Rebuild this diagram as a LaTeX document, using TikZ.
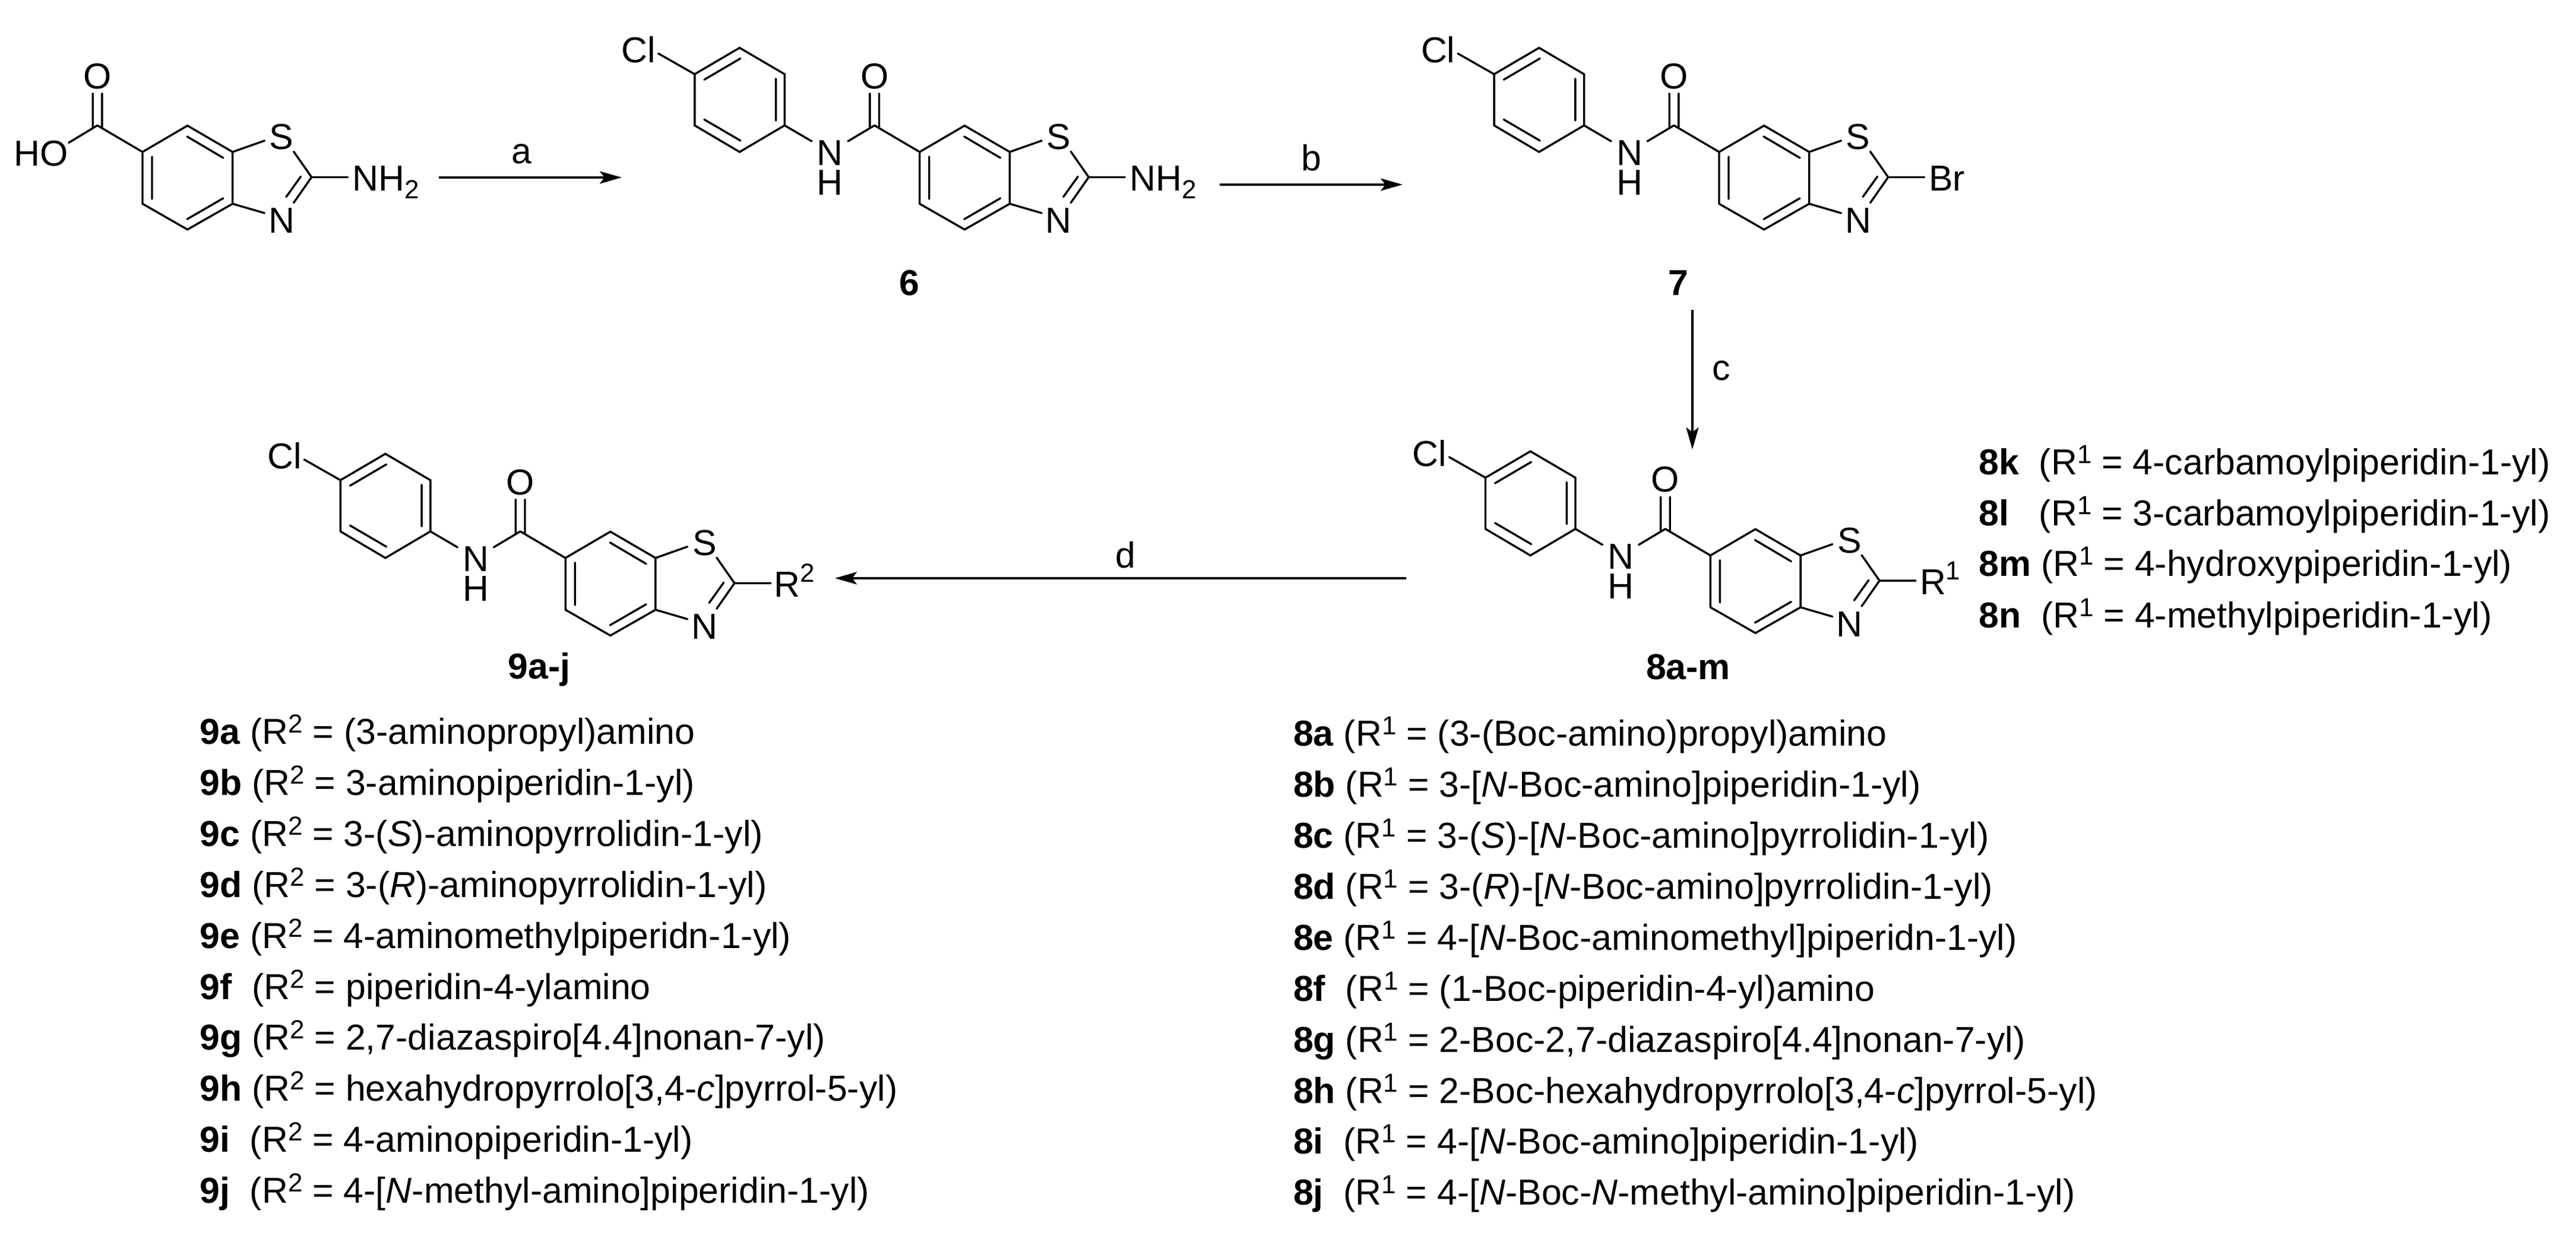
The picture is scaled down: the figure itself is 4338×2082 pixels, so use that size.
\documentclass[tikz,border=0pt]{standalone}
\usepackage{fontspec}
\setmainfont{Liberation Sans}
\usetikzlibrary{arrows.meta}
\newcommand{\supr}[1]{\raisebox{1.9pt}{\fontsize{4.4}{5}\selectfont #1}}
\newcommand{\supR}[1]{\raisebox{2.5pt}{\fontsize{4.4}{5}\selectfont #1}}
\newcommand{\subr}[1]{\raisebox{-1.3pt}{\fontsize{4.4}{5}\selectfont #1}}
\tikzset{
  bond/.style={line width=0.34pt,line cap=round,line join=miter},
  atom/.style={inner sep=0pt,anchor=base,font=\fontsize{6.08}{7}\selectfont},
  atomw/.style={inner sep=0pt,anchor=base west,font=\fontsize{6.08}{7}\selectfont},
  cmpd/.style={inner sep=0pt,anchor=base,font=\fontsize{6.08}{7}\selectfont\bfseries},
  row/.style={inner sep=0pt,anchor=base west,font=\fontsize{6.08}{7}\selectfont},
  rxn/.style={line width=0.34pt,-{Stealth[length=3.7pt,width=2.1pt,inset=0.8pt]}},
}
% benzothiazole core with the carbonyl group; origin = ring atom bearing C=O
\newcommand{\core}[5]{% prefix, x, y, substituent x, substituent text
\begin{scope}[shift={(#2,#3)}]
  \coordinate (#1r1) at (-0.6,1.3);
  \coordinate (#1r2) at (75.1,-43);
  \coordinate (#1r3) at (151.1,1.3);
  \coordinate (#1r4) at (151.1,88.6);
  \coordinate (#1r5) at (75.1,132);
  \coordinate (#1r6) at (-0.6,88.6);
  \coordinate (#1c2) at (284.1,43.8);
  \coordinate (#1co) at (-76.6,-43.4);
  \coordinate (#1sa) at (204.9,-17.7);
  \coordinate (#1sb) at (254,0.7);
  \coordinate (#1na) at (204.9,104.3);
  \coordinate (#1nb) at (254,86.9);
  \coordinate (#1ia) at (265.9,42.8);
  \coordinate (#1ib) at (241.4,77);
  \coordinate (#1l1) at (15.4,9.3);
  \coordinate (#1l2) at (15.4,80.6);
  \coordinate (#1t1) at (74.4,-24.7);
  \coordinate (#1t2) at (135.4,11.3);
  \coordinate (#1b1) at (74.4,114.6);
  \coordinate (#1b2) at (135.4,79.3);
  \coordinate (#1o1) at (-84.4,-97.2);
  \coordinate (#1o2) at (-84.4,-38.9);
  \coordinate (#1o3) at (-68.8,-97.2);
  \coordinate (#1o4) at (-68.8,-38.9);
  \coordinate (#1sub) at (345.1,43.8);
  \node[atom] (#1S) at (233.6,-3) {S};
  \node[atom] (#1N) at (233.6,137.7) {N};
  \node[atom] (#1O) at (-76.6,-105.5) {O};
  \node[atomw] (#1X) at (#4,67.3) {#5};
  \draw[bond] (#1r1)--(#1r2)--(#1r3)--(#1r4)--(#1r5)--(#1r6)--cycle;
  \draw[bond] (#1r3)--(#1sa) (#1sb)--(#1c2)--(#1nb) (#1na)--(#1r4);
  \draw[bond] (#1ia)--(#1ib) (#1l1)--(#1l2) (#1t1)--(#1t2) (#1b1)--(#1b2);
  \draw[bond] (#1r1)--(#1co) (#1o1)--(#1o2) (#1o3)--(#1o4) (#1c2)--(#1sub);
\end{scope}}
% 4-chlorophenyl amide, added to a \core
\newcommand{\aryl}[3]{%
\begin{scope}[shift={(#2,#3)}]
  \coordinate (#1p1) at (-228,-43.4);
  \coordinate (#1p2) at (-228,-129.7);
  \coordinate (#1p3) at (-303.8,-174.1);
  \coordinate (#1p4) at (-379.5,-129.7);
  \coordinate (#1p5) at (-379.5,-43.4);
  \coordinate (#1p6) at (-303.8,1.3);
  \coordinate (#1ca) at (-121.4,-16.7);
  \coordinate (#1cb) at (-182.4,-16.7);
  \coordinate (#1cl) at (-440.6,-164.5);
  \coordinate (#1i1) at (-363.4,-120.4);
  \coordinate (#1i2) at (-302.3,-156.2);
  \coordinate (#1i3) at (-242.7,-122);
  \coordinate (#1i4) at (-242.7,-51.7);
  \coordinate (#1i5) at (-363.4,-53.4);
  \coordinate (#1i6) at (-302.3,-17.7);
  \node[atom] (#1Nam) at (-151.5,24.3) {N};
  \node[atom] (#1Ham) at (-151.5,74.3) {H};
  \node[atomw] (#1Cl) at (-504.6,-148.7) {Cl};
  \draw[bond] (#1p1)--(#1p2)--(#1p3)--(#1p4)--(#1p5)--(#1p6)--cycle;
  \draw[bond] (#1i1)--(#1i2) (#1i3)--(#1i4) (#1i5)--(#1i6);
  \draw[bond] (#1co)--(#1ca) (#1p1)--(#1cb) (#1p4)--(#1cl);
\end{scope}}
\newcommand{\listrow}[3]{\node[row] at (#1,#2) {#3};}
\begin{document}
\begin{tikzpicture}[x=0.1pt,y=-0.1pt]
\useasboundingbox (0,0) rectangle (4338,2082);
% starting acid
\core{A}{240.6}{254.7}{351}{NH\subr{2}}
\node[atomw] (Aho) at (22,280) {HO};
\coordinate (Aohb) at (115.7,240.5);
\draw[bond] (Aco)--(Aohb);
% 6, 7, 8, 9
\core{B}{1549.3}{254.7}{351}{NH\subr{2}}
\aryl{B}{1549.3}{254.7}
\node[cmpd] (n6) at (1531,497.5) {6};
\core{C}{2895.6}{254.7}{350.7}{Br}
\aryl{C}{2895.6}{254.7}
\node[cmpd] (n7) at (2826,497.5) {7};
\core{D}{2881}{934.4}{350}{R\supR{1}}
\aryl{D}{2881}{934.4}
\node[cmpd] (n8) at (2843,1144.5) {8a-m};
\core{E}{952.8}{938.6}{348.7}{R\supR{2}}
\aryl{E}{952.8}{938.6}
\node[cmpd] (n9) at (908,1143.5) {9a-j};
% arrows
\coordinate (a1) at (739,299); \coordinate (a2) at (1047,299);
\coordinate (b1) at (2054,311); \coordinate (b2) at (2362,311);
\coordinate (c1) at (2850,522); \coordinate (c2) at (2850,757);
\coordinate (d1) at (2368,974); \coordinate (d2) at (1406,974);
\draw[rxn] (a1)--(a2);
\draw[rxn] (b1)--(b2);
\draw[rxn] (c1)--(c2);
\draw[rxn] (d1)--(d2);
\node[atom] (la) at (878,276) {a};
\node[atom] (lb) at (2208,288) {b};
\node[atom] (lc) at (2899,641) {c};
\node[atom] (ld) at (1895,957) {d};
% right list
\listrow{3330.5}{800}{\textbf{8k}\ \ (R\supr{1} = 4-carbamoylpiperidin-1-yl)}
\listrow{3330.5}{886}{\textbf{8l}\ \ \ (R\supr{1} = 3-carbamoylpiperidin-1-yl)}
\listrow{3330.5}{971}{\textbf{8m} (R\supr{1} = 4-hydroxypiperidin-1-yl)}
\listrow{3330.5}{1057.4}{\textbf{8n}\ \ (R\supr{1} = 4-methylpiperidin-1-yl)}
% list 9
\listrow{334.5}{1254}{\textbf{9a} (R\supr{2} = (3-aminopropyl)amino}
\listrow{334.5}{1340}{\textbf{9b} (R\supr{2} = 3-aminopiperidin-1-yl)}
\listrow{334.5}{1425.7}{\textbf{9c} (R\supr{2} = 3-(\textit{S})-aminopyrrolidin-1-yl)}
\listrow{334.5}{1511.5}{\textbf{9d} (R\supr{2} = 3-(\textit{R})-aminopyrrolidin-1-yl)}
\listrow{334.5}{1597.2}{\textbf{9e} (R\supr{2} = 4-aminomethylpiperidn-1-yl)}
\listrow{334.5}{1683.1}{\textbf{9f}\ \ (R\supr{2} = piperidin-4-ylamino}
\listrow{334.5}{1769}{\textbf{9g} (R\supr{2} = 2,7-diazaspiro[4.4]nonan-7-yl)}
\listrow{334.5}{1854.9}{\textbf{9h} (R\supr{2} = hexahydropyrrolo[3,4-\textit{c}]pyrrol-5-yl)}
\listrow{334.5}{1940.8}{\textbf{9i}\ \ (R\supr{2} = 4-aminopiperidin-1-yl)}
\listrow{334.5}{2026.7}{\textbf{9j}\ \ (R\supr{2} = 4-[\textit{N}-methyl-amino]piperidin-1-yl)}
% list 8
\listrow{2176}{1256.3}{\textbf{8a} (R\supr{1} = (3-(Boc-amino)propyl)amino}
\listrow{2176}{1342.3}{\textbf{8b} (R\supr{1} = 3-[\textit{N}-Boc-amino]piperidin-1-yl)}
\listrow{2176}{1428.3}{\textbf{8c} (R\supr{1} = 3-(\textit{S})-[\textit{N}-Boc-amino]pyrrolidin-1-yl)}
\listrow{2176}{1514.3}{\textbf{8d} (R\supr{1} = 3-(\textit{R})-[\textit{N}-Boc-amino]pyrrolidin-1-yl)}
\listrow{2176}{1600.3}{\textbf{8e} (R\supr{1} = 4-[\textit{N}-Boc-aminomethyl]piperidn-1-yl)}
\listrow{2176}{1686.3}{\textbf{8f}\ \ (R\supr{1} = (1-Boc-piperidin-4-yl)amino}
\listrow{2176}{1772.3}{\textbf{8g} (R\supr{1} = 2-Boc-2,7-diazaspiro[4.4]nonan-7-yl)}
\listrow{2176}{1858.3}{\textbf{8h} (R\supr{1} = 2-Boc-hexahydropyrrolo[3,4-\textit{c}]pyrrol-5-yl)}
\listrow{2176}{1943.8}{\textbf{8i}\ \ (R\supr{1} = 4-[\textit{N}-Boc-amino]piperidin-1-yl)}
\listrow{2176}{2029.6}{\textbf{8j}\ \ (R\supr{1} = 4-[\textit{N}-Boc-\textit{N}-methyl-amino]piperidin-1-yl)}
\end{tikzpicture}
\end{document}
